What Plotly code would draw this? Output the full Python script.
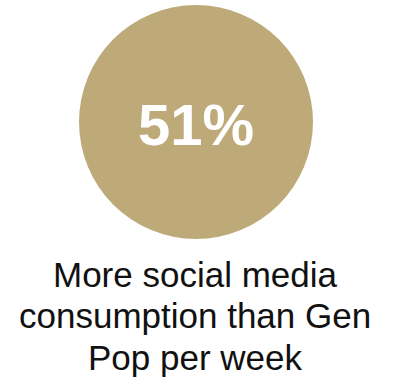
import plotly.graph_objects as go

value_pct = [51]
label_lines = ["More social media", "consumption than Gen", "Pop per week"]

W, H = 395, 379
fig = go.Figure()

fig.add_trace(go.Scatter(
    x=[196], y=[122], mode="markers",
    marker=dict(size=234, color="#BEAA78", line=dict(width=0)),
    hoverinfo="skip", showlegend=False,
))

fig.add_annotation(x=196, y=124, text=f"<b>{value_pct[0]}%</b>", showarrow=False,
                   font=dict(family="Liberation Sans", size=58, color="white"),
                   xanchor="center", yanchor="middle")

line_y = [274, 315, 357]
for t, yy in zip(label_lines, line_y):
    fig.add_annotation(x=195, y=yy, text=t, showarrow=False,
                       font=dict(family="Liberation Sans", size=35, color="#111111"),
                       xanchor="center", yanchor="middle")

fig.update_layout(
    width=W, height=H, margin=dict(l=0, r=0, t=0, b=0),
    paper_bgcolor="white", plot_bgcolor="white",
    xaxis=dict(range=[0, W], visible=False, fixedrange=True),
    yaxis=dict(range=[H, 0], visible=False, fixedrange=True),
)
fig.write_html("out.html")
